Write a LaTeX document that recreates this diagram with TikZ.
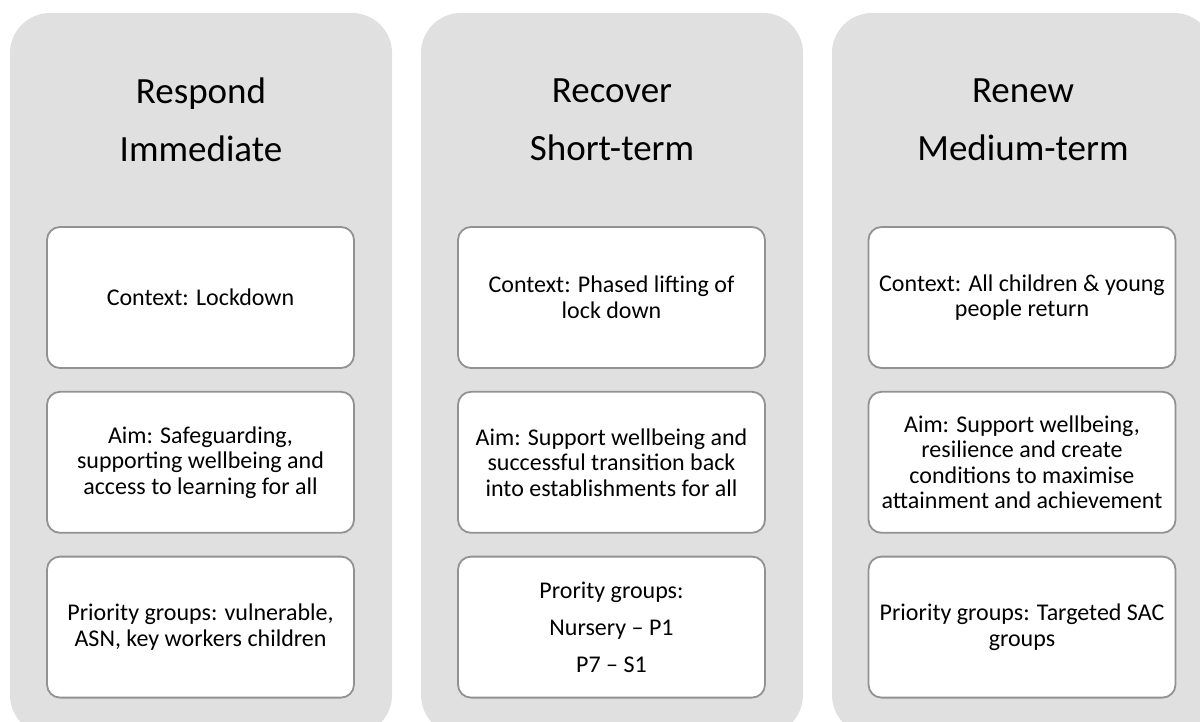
\documentclass[tikz,border=0pt]{standalone}
\usepackage{fontspec}
\setmainfont{Carlito}
\usetikzlibrary{positioning}
\definecolor{panelgrey}{HTML}{E0E0E0}
\definecolor{edgegrey}{HTML}{929292}

\begin{document}
\begin{tikzpicture}[x=1pt,y=-1pt]
		\tikzset{panel/.style={shape = rectangle, rounded corners = 40pt, fill = panelgrey,
				minimum width = 382pt, minimum height = 722pt, inner sep = 0pt}}
		\tikzset{heading/.style={align = center, font = \fontsize{37}{58}\selectfont}}
		\tikzset{stagebox/.style={shape = rectangle, rounded corners = 13pt, draw = edgegrey,
				line width = 1.8pt, fill = white, align = center,
				minimum width = 307pt, minimum height = 141pt,
				font = \fontsize{24}{25.5}\selectfont}}
		\useasboundingbox (0,0) rectangle (1200,722);
		\clip (0,0) rectangle (1200,722);
					%panels
					\node[panel] (p1) at (201, 374) {};
					\node[panel] (p2) at (612, 374) {};
					\node[panel] (p3) at (1023, 374) {};
					%headings
					\node[heading] (h1) at (201, 120) {Respond\\Immediate};
					\node[heading] (h2) at (612, 120) {Recover\\Short-term};
					\node[heading] (h3) at (1023, 120) {Renew\\Medium-term};
					%boxes
					\node[stagebox] (c1) at (200.5, 297.5) {Context: Lockdown};
					\node[stagebox, below = 22pt of c1] (a1) {Aim: Safeguarding,\\supporting wellbeing and\\access to learning for all};
					\node[stagebox, below = 22pt of a1] (g1) {Priority groups: vulnerable,\\ASN, key workers children};
					\node[stagebox] (c2) at (611.5, 297.5) {Context: Phased lifting of\\lock down};
					\node[stagebox, below = 22pt of c2] (a2) {Aim: Support wellbeing and\\successful transition back\\into establishments for all};
					\node[stagebox, below = 22pt of a2] (g2) {Prority groups:\\[11.5pt]Nursery -- P1\\[11.5pt]P7 -- S1};
					\node[stagebox] (c3) at (1022, 297.5) {Context: All children \& young\\people return};
					\node[stagebox, below = 22pt of c3] (a3) {Aim: Support wellbeing,\\resilience and create\\conditions to maximise\\attainment and achievement};
					\node[stagebox, below = 22pt of a3] (g3) {Priority groups: Targeted SAC\\groups};
					
					\end{tikzpicture}
\end{document}
